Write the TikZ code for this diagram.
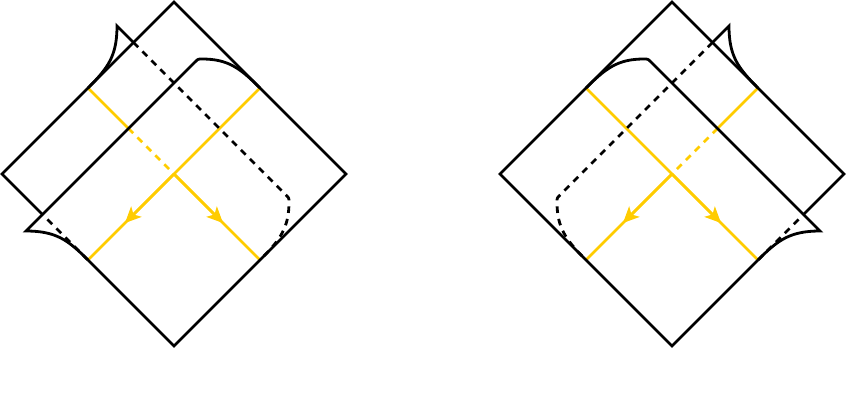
\documentclass[tikz,border=0pt]{standalone}
\usetikzlibrary{arrows.meta,calc}
\definecolor{gold}{HTML}{FFCC00}
\tikzset{
  edge/.style={line width=2.1pt, black, line join=miter},
  hidden/.style={edge, dash pattern=on 5pt off 4.5pt},
  ray/.style={line width=2pt, gold},
  hiddenray/.style={ray, dash pattern=on 5pt off 4.5pt},
  rayarrow/.style={ray, -{Stealth[length=12pt,width=11pt,inset=3pt]}},
}
\newcommand\peelsheet{%
  % main diamond
  \coordinate (T) at (174,2);
  \coordinate (L) at (2,174);
  \coordinate (R) at (346,174);
  \coordinate (Bo) at (174,346);
  \coordinate (O) at (174,174);
  \coordinate (P1) at (88,88);
  \coordinate (P2) at (260,88);
  \coordinate (P3) at (260,260);
  \coordinate (P4) at (88,260);
  % front sheet
  \coordinate (B) at (26,231);
  \coordinate (A) at (198,59);
  \coordinate (A1) at (195,62);
  \coordinate (A2) at (202,59);
  \coordinate (X1) at (42.5,214.5);
  % back sheet
  \coordinate (C) at (117,26);
  \coordinate (D) at (289,198);
  \coordinate (D1) at (286,195);
  \coordinate (D2) at (289,202);
  \coordinate (X2) at (133.5,42.5);
  % yellow
  \coordinate (Y1) at (128.5,128.5);
  \coordinate (TipL) at (125,223);
  \coordinate (TipR) at (223,223);
  % yellow rays
  \draw[ray] (P2) -- (P4);
  \draw[ray] (P1) -- (Y1);
  \draw[hiddenray] (Y1) -- (O);
  \draw[ray] (O) -- (P3);
  \draw[rayarrow] (O) -- (TipL);
  \draw[rayarrow] (O) -- (TipR);
  % back sheet
  \draw[edge] (P1) .. controls (108,68) and (117,56) .. (C) -- (X2);
  \draw[hidden] (X2) -- (D1) .. controls (D) .. (D2)
       .. controls (289,228) and (280,240) .. (P3);
  % main diamond
  \draw[edge] (X1) -- (L) -- (T) -- (R) -- (Bo) -- (P4);
  \draw[hidden] (P4) -- (X1);
  % front sheet
  \draw[edge] (P4) .. controls (68,240) and (56,231) .. (B) -- (A1)
       .. controls (A) .. (A2) .. controls (228,59) and (240,68) .. (P2);
}
\begin{document}
\begin{tikzpicture}[x=0.75pt,y=-0.75pt]
  \useasboundingbox (0,0) rectangle (847,419);
  \begin{scope}
    \peelsheet
  \end{scope}
  \begin{scope}[shift={(846,0)},xscale=-1]
    \peelsheet
  \end{scope}
\end{tikzpicture}
\end{document}
